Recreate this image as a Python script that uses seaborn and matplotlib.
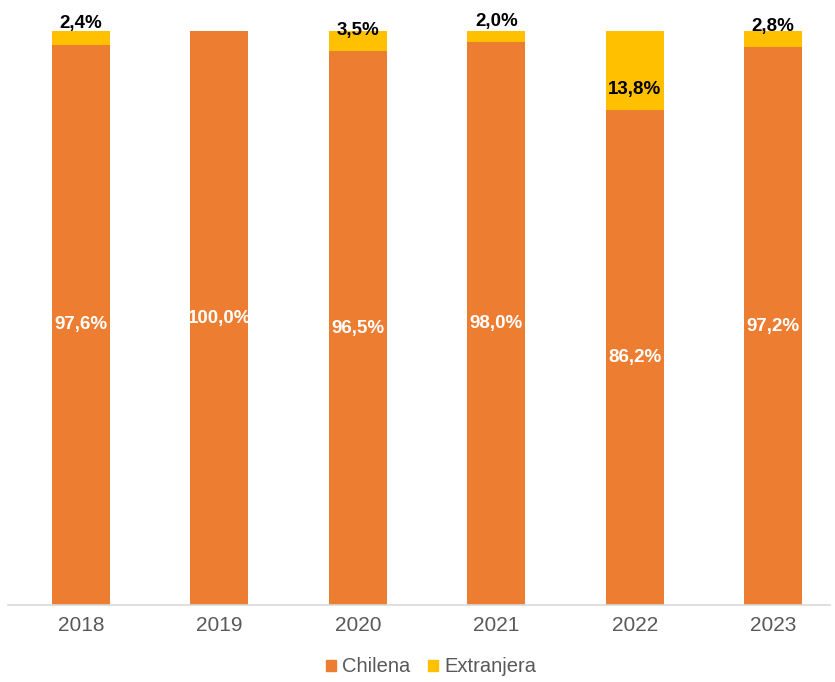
import matplotlib
matplotlib.use("Agg")
import matplotlib.pyplot as plt
import seaborn as sns
import pandas as pd
from matplotlib.patches import Patch

years = ["2018", "2019", "2020", "2021", "2022", "2023"]
chilena = [97.6, 100.0, 96.5, 98.0, 86.2, 97.2]
extranjera = [2.4, 0.0, 3.5, 2.0, 13.8, 2.8]

c_chi = "#ED7D31"
c_ext = "#FFC000"

sns.set_theme(style="white")
plt.rcParams['font.family'] = ['Liberation Sans', 'DejaVu Sans']

df = pd.DataFrame({"year": years, "chilena": chilena, "extranjera": extranjera})
df["total"] = df["chilena"] + df["extranjera"]

fig = plt.figure(figsize=(8.35, 6.82), dpi=100)
ax = fig.add_axes([8/835, 77/682, (830-8)/835, (605-31)/682])

sns.barplot(data=df, x="year", y="total", color=c_ext, width=0.42, ax=ax,
            saturation=1, linewidth=0)
sns.barplot(data=df, x="year", y="chilena", color=c_chi, width=0.42, ax=ax,
            saturation=1, linewidth=0)

ax.set_ylim(0, 100)
ax.set_xlim(-0.527, 5.41)
ax.set_xlabel("")
ax.set_ylabel("")
ax.set_yticks([])
for s in ["top", "right", "left"]:
    ax.spines[s].set_visible(False)
ax.spines["bottom"].set_color("#D9D9D9")
ax.spines["bottom"].set_linewidth(1.2)
ax.tick_params(axis="x", length=0, pad=8, labelsize=15, labelcolor="#595959")

def fmt(v):
    return f"{v:.1f}".replace(".", ",") + "%"

for i, (c, e) in enumerate(zip(chilena, extranjera)):
    ax.text(i, c / 2, fmt(c), ha="center", va="center", color="white",
            fontsize=13.5, fontweight="bold")
    if e > 0:
        ax.annotate(fmt(e), xy=(i, c), xytext=(0, 15), textcoords="offset points",
                    ha="center", va="center", color="black",
                    fontsize=13.5, fontweight="bold")

handles = [Patch(color=c_chi, label="Chilena"), Patch(color=c_ext, label="Extranjera")]
fig.legend(handles=handles, loc="center", bbox_to_anchor=(431/835, 1 - 667/682),
           ncol=2, frameon=False, fontsize=14.5, labelcolor="#595959",
           handlelength=0.5, handleheight=0.5, handletextpad=0.3, columnspacing=0.9)

fig.savefig("out.png", dpi=100)
